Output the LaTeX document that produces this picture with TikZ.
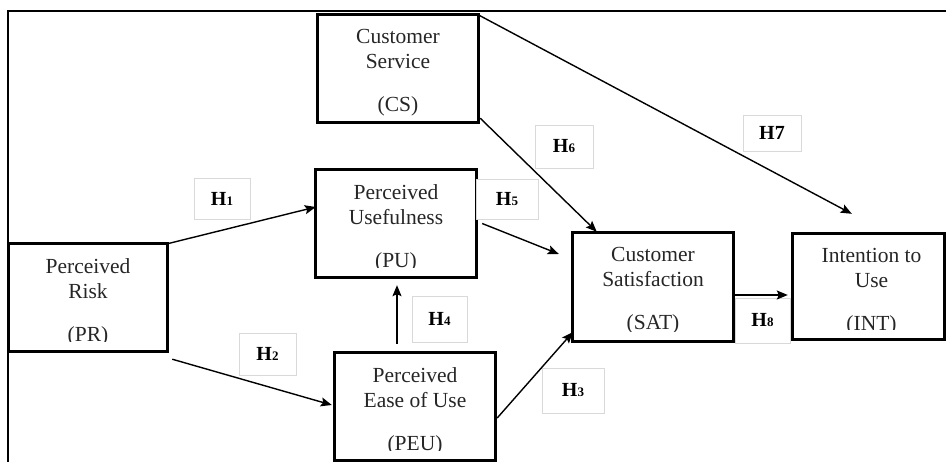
\documentclass[tikz,border=0pt]{standalone}
\usepackage{fontspec}
\setmainfont{Liberation Serif}
\usetikzlibrary{arrows.meta}
\newcommand\hdig[1]{{\fontsize{13}{13}\selectfont #1}}
\tikzset{
  cbox/.style={inner sep=0pt, minimum width=160pt, minimum height=107pt},
  border/.style={draw=black, line width=3pt},
  boxtext/.style={align=center, inner sep=0pt, font=\fontsize{21.5}{25}\selectfont, anchor=north, text=black!85},
  hlab/.style={draw=black!15, line width=0.6pt, fill=white, inner sep=0pt, font=\fontsize{20}{22}\selectfont\bfseries},
  conn/.style={line width=1.4pt, -{Stealth[length=11pt,width=9pt,inset=2pt]}},
  frame/.style={line width=1.6pt}
}
\begin{document}
\begin{tikzpicture}[x=1pt,y=-1pt]
\useasboundingbox (0,0) rectangle (946,462);
% frame
\coordinate (ftl) at (8,11);
\coordinate (ftr) at (946,11);
\coordinate (fbl) at (8,462);
\draw[frame] (ftr) -- (ftl) -- (fbl);
% boxes
\node[cbox] (cs) at (398,68.5) {};
\node[cbox] (pu) at (396,223.5) {};
\node[cbox, minimum width=158pt] (pr) at (88,297.5) {};
\node[cbox] (peu) at (415,406.5) {};
\node[cbox, minimum height=108pt] (sat) at (653,287) {};
\node[cbox, minimum width=151pt, minimum height=105pt] (int) at (868.5,286.5) {};
% box texts
\node[boxtext] (cst) at ([yshift=-14.5pt]cs.north) {Customer\\Service\\[18pt](CS)};
\node[boxtext] (put) at ([yshift=-14.5pt]pu.north) {Perceived\\Usefulness\\[18pt](PU)};
\node[boxtext] (prt) at ([yshift=-14.5pt]pr.north) {Perceived\\Risk\\[18pt](PR)};
\node[boxtext] (peut) at ([yshift=-14.5pt]peu.north) {Perceived\\Ease of Use\\[18pt](PEU)};
\node[boxtext] (satt) at ([yshift=-14.5pt]sat.north) {Customer\\Satisfaction\\[18pt](SAT)};
\node[boxtext] (intt) at ([shift={(3pt,-14.5pt)}]int.north) {Intention to\\Use\\[18pt](INT)};
% clip lower text edge (text box effect)
\foreach \b in {pu,pr,peu,sat,int}{
  \fill[white] (\b.south west) rectangle ([yshift=9pt]\b.south east);
}
% borders on top
\foreach \b in {cs,pu,pr,peu,sat,int}{
  \draw[border] (\b.south west) rectangle (\b.north east);
}
% labels
\node[hlab, minimum width=56pt, minimum height=41pt] (h1) at (222,198.5) {H\hdig{1}};
\node[hlab, minimum width=57pt, minimum height=42pt] (h2) at (267.5,354) {H\hdig{2}};
\node[hlab, minimum width=62pt, minimum height=45pt] (h3) at (573,390.5) {H\hdig{3}};
\node[hlab, minimum width=55pt, minimum height=46pt] (h4) at (439.5,319) {H\hdig{4}};
\node[hlab, minimum width=62pt, minimum height=40pt] (h5) at (507,199) {H\hdig{5}};
\node[hlab, minimum width=58pt, minimum height=43pt] (h6) at (564,146.5) {H\hdig{6}};
\node[hlab, minimum width=58pt, minimum height=36pt] (h7) at (772,133) {H7};
\node[hlab, minimum width=55pt, minimum height=45pt] (h8) at (762.5,320.5) {H\hdig{8}};
% connectors
\draw[conn] (pr.north east) -- ([yshift=16.5pt]pu.west);
\draw[conn] ([shift={(5pt,-8pt)}]pr.south east) -- ([shift={(-3pt,1.5pt)}]peu.west);
\draw[conn] ([shift={(2pt,-11.5pt)}]peu.east) -- ([yshift=9pt]sat.south west);
\draw[conn] ([shift={(-18pt,9pt)}]peu.north) -- ([shift={(1pt,-8pt)}]pu.south);
\draw[conn] ([xshift=6pt]pu.east) -- ([shift={(-14pt,33pt)}]sat.west);
\draw[conn] ([shift={(2pt,4pt)}]cs.south east) -- ([shift={(24pt,1pt)}]sat.north west);
\draw[conn] (cs.north east) -- ([shift={(59pt,20pt)}]int.north west);
\draw[conn] ([yshift=-8pt]sat.east) -- ([shift={(-5pt,-8.5pt)}]int.west);
\end{tikzpicture}
\end{document}
